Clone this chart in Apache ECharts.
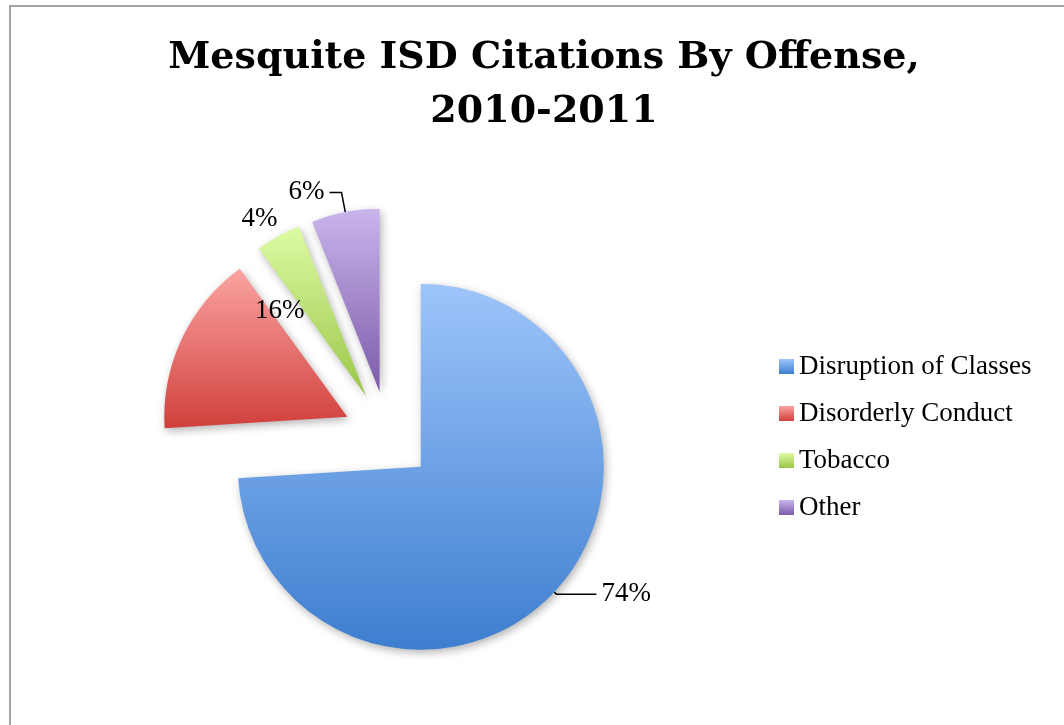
<!DOCTYPE html>
<html>
<head>
<meta charset="utf-8">
<script src="https://cdn.jsdelivr.net/npm/echarts@6/dist/echarts.min.js"></script>
<style>
html,body{margin:0;padding:0;background:#fff;}
#c{width:1064px;height:725px;}
</style>
</head>
<body>
<div id="c"></div>
<script>
const titleText = 'Mesquite ISD Citations By Offense,\n2010-2011';
const categories = ['Disruption of Classes', 'Disorderly Conduct', 'Tobacco', 'Other'];
const values = [74, 16, 4, 6];
const topColors = ['#9EC5FB', '#FBA4A2', '#DDFBA4', '#C9B5EC'];
const bottomColors = ['#3D7ECF', '#D0403C', '#9AC548', '#7C5AA9'];

const labelFont = 'Liberation Serif';

function grad(i) {
  return new echarts.graphic.LinearGradient(0, 0, 0, 1, [
    { offset: 0, color: topColors[i] },
    { offset: 1, color: bottomColors[i] }
  ]);
}

const perItem = [
  { label: { position: 'outside' }, labelLine: { show: true, length: 3, length2: 40 } },
  { label: { position: 'inside' }, labelLine: { show: false } },
  { label: { position: 'outside', distanceToLabelLine: -9 }, labelLine: { show: false, length: 20, length2: 0 } },
  { label: { position: 'outside' }, labelLine: { show: true, length: 20, length2: 12 } }
];

const data = categories.map((name, i) => ({
  name: name,
  value: values[i],
  selected: true,
  itemStyle: { color: grad(i) },
  label: perItem[i].label,
  labelLine: perItem[i].labelLine
}));

const chart = echarts.init(document.getElementById('c'), null, { renderer: 'canvas' });
chart.setOption({
  animation: false,
  backgroundColor: '#fff',
  title: {
    text: titleText,
    left: 539,
    textAlign: 'center',
    top: 26,
    textStyle: {
      fontFamily: 'DejaVu Serif',
      fontWeight: 'bold',
      fontSize: 38,
      lineHeight: 54,
      color: '#000'
    }
  },
  legend: {
    orient: 'vertical',
    left: 774,
    top: 348,
    itemWidth: 15,
    itemHeight: 15,
    itemGap: 20,
    icon: 'rect',
    textStyle: { fontFamily: labelFont, fontSize: 27, color: '#000', lineHeight: 27 },
    data: categories
  },
  graphic: [{
    type: 'polyline',
    shape: { points: [[10, 725], [10, 6], [1064, 6]] },
    style: { stroke: '#a3a3a3', lineWidth: 2, fill: null },
    silent: true
  }],
  series: [{
    type: 'pie',
    center: [388, 436],
    radius: 183,
    startAngle: 90,
    clockwise: true,
    selectedMode: 'multiple',
    selectedOffset: 45,
    avoidLabelOverlap: false,
    emphasis: { disabled: true },
    select: { itemStyle: { borderWidth: 0 } },
    itemStyle: {
      shadowBlur: 8,
      shadowColor: 'rgba(0,0,0,0.3)',
      shadowOffsetX: 2,
      shadowOffsetY: 3
    },
    label: {
      formatter: '{c}%',
      fontFamily: labelFont,
      fontSize: 27,
      color: '#000'
    },
    labelLine: {
      lineStyle: { color: '#000', width: 1.5 }
    },
    labelLayout: function (params) {
      if (params.dataIndex === 1) {
        return { dx: 18, dy: -66 };
      }
      return {};
    },
    data: data
  }]
});
</script>
</body>
</html>
